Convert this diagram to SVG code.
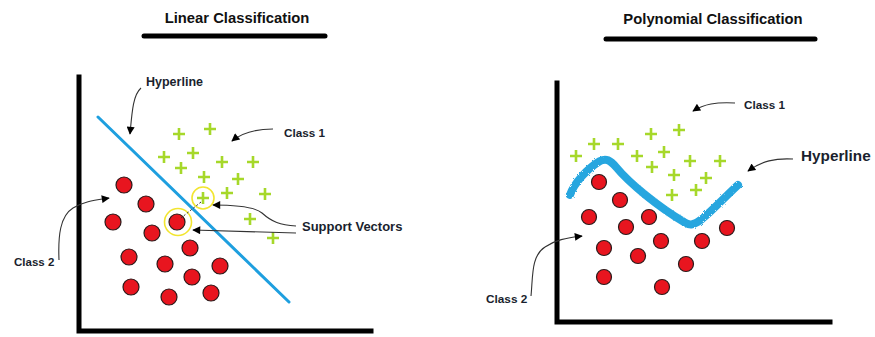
<svg xmlns="http://www.w3.org/2000/svg" width="875" height="337" viewBox="0 0 875 337">
<defs>
<style>
.title{font-family:"Liberation Sans",Arial,sans-serif;font-weight:bold;font-size:14.8px;fill:#111;}
.lbl{font-family:"Liberation Sans",Arial,sans-serif;font-weight:bold;fill:#1a1f2e;}
.axis{stroke:#000;stroke-width:5;fill:none;stroke-linecap:square;}
.uline{stroke:#000;stroke-width:5;stroke-linecap:round;}
.lead{stroke:#333;stroke-width:1.1;fill:none;}
.plus{stroke:#a6d82a;stroke-width:2.6;fill:none;}
.dot{fill:#e8151f;stroke:#2a1a1a;stroke-width:1.2;}
.sv{fill:none;stroke:#f2e530;stroke-width:1.6;}
</style>
<marker id="ah" viewBox="0 0 10 10" refX="9" refY="5" markerWidth="9" markerHeight="8" markerUnits="userSpaceOnUse" orient="auto">
<path d="M0,0 L10,5 L0,10 Z" fill="#000"/>
</marker>
<path id="p" d="M-6,0 H6 M0,-6 V6"/>
<filter id="rough" x="-5%" y="-20%" width="110%" height="140%">
<feTurbulence type="fractalNoise" baseFrequency="0.9" numOctaves="2" result="n"/>
<feDisplacementMap in="SourceGraphic" in2="n" scale="2.5"/>
</filter>
</defs>

<g id="linear-panel">
<g id="linear-title">
<text class="title" x="237" y="23" text-anchor="middle">Linear Classification</text>
<line class="uline" x1="144" y1="36" x2="325" y2="36"/>
</g>
<g id="linear-axes">
<path class="axis" d="M79,77 V331 H371"/>
</g>
<g id="linear-hyperline">
<line x1="98" y1="117" x2="289" y2="302" stroke="#1e9fdf" stroke-width="3" stroke-linecap="round"/>
</g>
<g id="linear-class1">
<use href="#p" class="plus" x="179" y="134"/>
<use href="#p" class="plus" x="210" y="129"/>
<use href="#p" class="plus" x="164" y="157"/>
<use href="#p" class="plus" x="193" y="153"/>
<use href="#p" class="plus" x="181" y="168"/>
<use href="#p" class="plus" x="222" y="162"/>
<use href="#p" class="plus" x="253" y="162"/>
<use href="#p" class="plus" x="204" y="177"/>
<use href="#p" class="plus" x="238" y="179"/>
<use href="#p" class="plus" x="227" y="193"/>
<use href="#p" class="plus" x="265" y="194"/>
<use href="#p" class="plus" x="203" y="198"/>
<use href="#p" class="plus" x="250" y="219"/>
<use href="#p" class="plus" x="273" y="238"/>
</g>
<g id="linear-class2">
<circle class="dot" cx="124" cy="185" r="8"/>
<circle class="dot" cx="146" cy="204" r="8"/>
<circle class="dot" cx="113" cy="222" r="8"/>
<circle class="dot" cx="152" cy="233" r="8"/>
<circle class="dot" cx="177" cy="222" r="8"/>
<circle class="dot" cx="190" cy="248" r="8"/>
<circle class="dot" cx="129" cy="257" r="8"/>
<circle class="dot" cx="165" cy="264" r="8"/>
<circle class="dot" cx="192" cy="277" r="8"/>
<circle class="dot" cx="220" cy="266" r="8"/>
<circle class="dot" cx="131" cy="287" r="8"/>
<circle class="dot" cx="169" cy="297" r="8"/>
<circle class="dot" cx="211" cy="293" r="8"/>
</g>
<g id="linear-support-vectors">
<circle class="sv" cx="203" cy="198" r="11"/>
<circle class="sv" cx="178" cy="222" r="13.5"/>
<line x1="201" y1="202" x2="181" y2="218" stroke="#333" stroke-width="1" stroke-dasharray="2,2"/>
</g>
<g id="linear-labels">
<text class="lbl" x="146" y="86" font-size="12.5">Hyperline</text>
<text class="lbl" x="284" y="137" font-size="11.7">Class 1</text>
<text class="lbl" x="14" y="266" font-size="11.5">Class 2</text>
<text class="lbl" x="302" y="231" font-size="13">Support Vectors</text>
</g>
</g>

<g id="poly-panel">
<g id="poly-title">
<text class="title" x="713" y="24" text-anchor="middle" font-size="15.2">Polynomial Classification</text>
<line class="uline" x1="606" y1="39" x2="815" y2="39"/>
</g>
<g id="poly-axes">
<path class="axis" d="M557,83 V322 H830"/>
</g>
<g id="poly-class1">
<use href="#p" class="plus" x="651" y="134"/>
<use href="#p" class="plus" x="679" y="130"/>
<use href="#p" class="plus" x="594" y="144"/>
<use href="#p" class="plus" x="618" y="144"/>
<use href="#p" class="plus" x="576" y="156"/>
<use href="#p" class="plus" x="637" y="156"/>
<use href="#p" class="plus" x="664" y="152"/>
<use href="#p" class="plus" x="652" y="167"/>
<use href="#p" class="plus" x="690" y="161"/>
<use href="#p" class="plus" x="720" y="161"/>
<use href="#p" class="plus" x="674" y="175"/>
<use href="#p" class="plus" x="706" y="178"/>
<use href="#p" class="plus" x="672" y="195"/>
<use href="#p" class="plus" x="696" y="190"/>
</g>
<g id="poly-class2">
<circle class="dot" cx="599" cy="182" r="7.5"/>
<circle class="dot" cx="620" cy="200" r="7.5"/>
<circle class="dot" cx="589" cy="217" r="7.5"/>
<circle class="dot" cx="626" cy="227" r="7.5"/>
<circle class="dot" cx="649" cy="217" r="7.5"/>
<circle class="dot" cx="661" cy="241" r="7.5"/>
<circle class="dot" cx="702" cy="241" r="7.5"/>
<circle class="dot" cx="727" cy="228" r="7.5"/>
<circle class="dot" cx="604" cy="248" r="7.5"/>
<circle class="dot" cx="638" cy="256" r="7.5"/>
<circle class="dot" cx="686" cy="264" r="7.5"/>
<circle class="dot" cx="604" cy="277" r="7.5"/>
<circle class="dot" cx="662" cy="287" r="7.5"/>
</g>
<g id="poly-hyperline">
<path d="M570,195 C574,183 588,168 600,161 C606,158 610,160 616,167 C630,184 660,208 684,222 C690,226 694,225 702,219 C714,209 728,194 738,185" fill="none" stroke="#27a6df" stroke-width="8" stroke-linecap="round" stroke-linejoin="round" filter="url(#rough)"/>
</g>
<g id="poly-labels">
<text class="lbl" x="744" y="109" font-size="11.7">Class 1</text>
<text class="lbl" x="801" y="161" font-size="15.3">Hyperline</text>
<text class="lbl" x="486" y="303" font-size="11.8">Class 2</text>
</g>
</g>

<g id="connectors">
<path class="lead" d="M141,88 C133,95 132,112 130,134" marker-end="url(#ah)"/>
<path class="lead" d="M273,129 C258,129 244,131 232,141" marker-end="url(#ah)"/>
<path class="lead" d="M59,260 C58,236 60,216 73,208 C84,201 96,200 109,198" marker-end="url(#ah)"/>
<path class="lead" d="M296,226 C280,225 272,222 262,213 C255,207 240,205 213,205" marker-end="url(#ah)"/>
<path class="lead" d="M296,233 L193,230" marker-end="url(#ah)"/>
<path class="lead" d="M735,103 C716,102 704,104 693,111" marker-end="url(#ah)"/>
<path class="lead" d="M793,159 C775,158 762,161 748,171" marker-end="url(#ah)"/>
<path class="lead" d="M531,296 C533,276 531,256 545,247 C555,240 566,238 582,236" marker-end="url(#ah)"/>
</g>
</svg>
